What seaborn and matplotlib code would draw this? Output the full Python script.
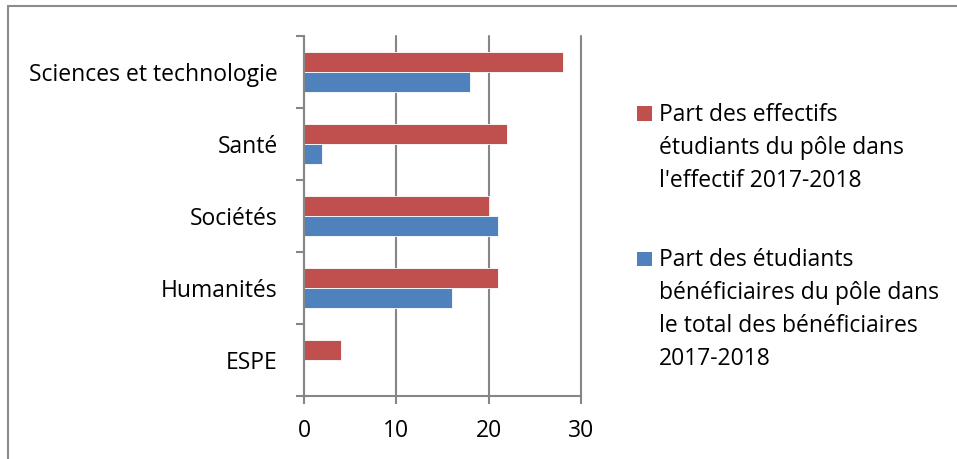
import pandas as pd
import matplotlib.pyplot as plt
import seaborn as sns
from matplotlib.lines import Line2D
from matplotlib.patches import Rectangle

# Data
poles = ['Sciences et technologie', 'Santé', 'Sociétés', 'Humanités', 'ESPE']
part_effectifs = [28, 22, 20, 21, 4]
part_beneficiaires = [18, 2, 21, 16, 0]

label_effectifs = ["Part des effectifs", "étudiants du pôle dans", "l'effectif 2017-2018"]
label_benef = ["Part des étudiants", "bénéficiaires du pôle dans",
               "le total des bénéficiaires", "2017-2018"]

red = '#C0504D'
blue = '#4F81BD'
gray = '#868686'

df = pd.DataFrame({
    'Pole': poles * 2,
    'Valeur': part_effectifs + part_beneficiaires,
    'Serie': ['effectifs'] * len(poles) + ['beneficiaires'] * len(poles),
})

sns.set_style("white")
plt.rcParams['font.family'] = ['Open Sans', 'DejaVu Sans']
fs = 16.5

fig = plt.figure(figsize=(9.57, 4.59), dpi=100)
ax = fig.add_axes([304 / 957, 1 - 396 / 459, 277 / 957, 360 / 459])

sns.barplot(data=df, y='Pole', x='Valeur', hue='Serie', order=poles,
            hue_order=['effectifs', 'beneficiaires'],
            palette={'effectifs': red, 'beneficiaires': blue},
            width=0.556, orient='h', legend=False, ax=ax,
            edgecolor='white', linewidth=0.6, saturation=1)

ax.set_xlim(0, 30)
ax.set_ylim(4.5, -0.5)
ax.set_xticks([0, 10, 20, 30])
ax.set_xlabel('')
ax.set_ylabel('')

# vertical gridlines
ax.grid(axis='x', color=gray, linewidth=1.5)
ax.set_axisbelow(True)
for gl in ax.get_xgridlines():
    gl.set_clip_on(False)

for side in ['top', 'right']:
    ax.spines[side].set_visible(False)
for side in ['left', 'bottom']:
    ax.spines[side].set_color(gray)
    ax.spines[side].set_linewidth(1.5)

# category separators as outward ticks on the left axis
ax.set_yticks([i - 0.5 for i in range(len(poles) + 1)], minor=True)
ax.tick_params(axis='y', which='major', length=0, pad=19, labelsize=fs, labelcolor='black')
ax.tick_params(axis='y', which='minor', length=5.5, width=1.5, color=gray, left=True)
ax.tick_params(axis='x', which='major', length=5.5, width=1.5, color=gray,
               bottom=True, pad=11, labelsize=fs, labelcolor='black')

# legend drawn on the right, one text per line (33 px apart)
for lines, col, ybase in [(label_effectifs, red, 121), (label_benef, blue, 266)]:
    fig.patches.append(Rectangle((637 / 957, 1 - ybase / 459), 15 / 957, 14.5 / 459,
                                 transform=fig.transFigure, facecolor=col, edgecolor='none'))
    for i, line in enumerate(lines):
        fig.text(659 / 957, 1 - (ybase + 33 * i) / 459, line, ha='left', va='baseline',
                 fontsize=fs, color='black')

# outer frame (left and top edges visible)
fig.add_artist(Line2D([8 / 957, 8 / 957], [0, 1 - 6 / 459], transform=fig.transFigure,
                      color='#8c8c8c', linewidth=1.5))
fig.add_artist(Line2D([8 / 957, 1], [1 - 6 / 459, 1 - 6 / 459], transform=fig.transFigure,
                      color='#8c8c8c', linewidth=1.5))

fig.savefig('out.png', dpi=100)
